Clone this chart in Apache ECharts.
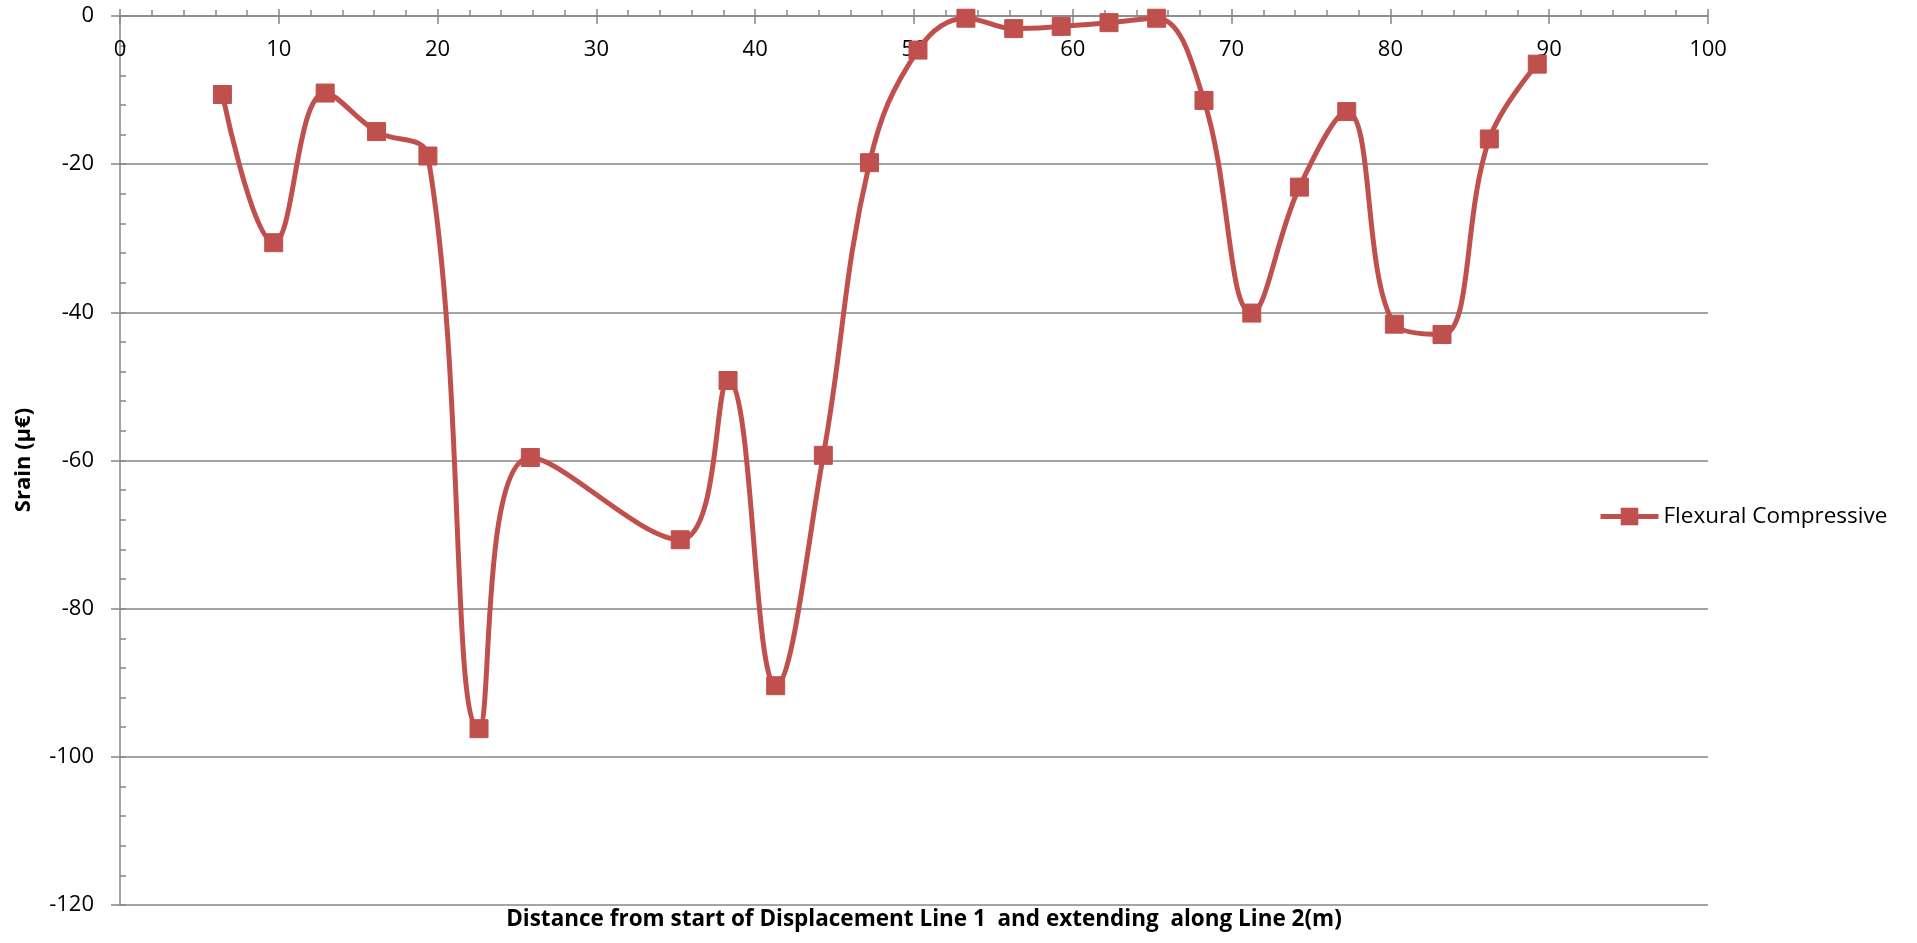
<!DOCTYPE html>
<html>
<head>
<meta charset="utf-8">
<script src="https://cdn.jsdelivr.net/npm/echarts@6/dist/echarts.min.js"></script>
<style>
html,body{margin:0;padding:0;background:#fff;}
#chart{width:1917px;height:943px;}
</style>
</head>
<body>
<div id="chart"></div>
<script>
// Data
const seriesName = 'Flexural Compressive';
const distances = [6.45, 9.68, 12.92, 16.15, 19.39, 22.61, 25.84, 35.28, 38.29, 41.29, 44.29, 47.2,
  50.25, 53.27, 56.28, 59.27, 62.28, 65.28, 68.26, 71.27, 74.27, 77.25, 80.25, 83.25, 86.23, 89.25];
const strains = [-10.6, -30.6, -10.4, -15.6, -18.9, -96.2, -59.6, -70.7, -49.2, -90.4, -59.3, -19.8,
  -4.6, -0.3, -1.7, -1.4, -0.9, -0.3, -11.4, -40.1, -23.1, -12.9, -41.6, -43.0, -16.6, -6.5];
const xTitle = 'Distance from start of Displacement Line 1  and extending  along Line 2(m)';
const yTitle = 'Srain (µ€)';

const points = distances.map((d, i) => [d, strains[i]]);

const FONT = '"Open Sans", "Noto Sans", sans-serif';
const AXIS = '#868686';
const RED = '#C0504D';
const gridBox = {left: 120, right: 209, top: 16, bottom: 38};

const chart = echarts.init(document.getElementById('chart'), null, {renderer: 'canvas'});
chart.setOption({
  animation: false,
  backgroundColor: '#fff',
  grid: [
    Object.assign({containLabel: false}, gridBox),
    Object.assign({containLabel: false}, gridBox)
  ],
  legend: {
    left: 1593, top: 500,
    orient: 'vertical',
    itemWidth: 58, itemHeight: 22,
    itemGap: 6,
    lineStyle: {width: 5},
    textStyle: {fontFamily: FONT, fontSize: 22.5, color: '#000'},
    data: [seriesName]
  },
  xAxis: [
    {
      type: 'value', gridIndex: 0, position: 'top',
      min: 0, max: 100, interval: 10,
      axisLine: {onZero: false, lineStyle: {color: AXIS, width: 1.5}},
      axisTick: {show: true, inside: false, length: 7, lineStyle: {color: AXIS, width: 1.5}},
      minorTick: {show: true, splitNumber: 5, length: 6, lineStyle: {color: AXIS, width: 1.5}},
      splitLine: {show: false},
      axisLabel: {inside: true, margin: 23, fontFamily: FONT, fontSize: 22, color: '#000'}
    },
    {
      type: 'value', gridIndex: 1, position: 'top',
      min: 0, max: 100, interval: 10,
      axisLine: {show: false, onZero: false},
      axisTick: {show: true, inside: true, length: 8, lineStyle: {color: AXIS, width: 1.5}},
      axisLabel: {show: false}, splitLine: {show: false}
    }
  ],
  yAxis: [
    {
      type: 'value', gridIndex: 0,
      min: -120, max: 0, interval: 20,
      axisLine: {show: true, onZero: false, lineStyle: {color: AXIS, width: 1.5}},
      axisTick: {show: true, inside: true, length: 6, lineStyle: {color: AXIS, width: 1.5}},
      minorTick: {show: true, splitNumber: 5, length: 6, lineStyle: {color: AXIS, width: 1.5}},
      splitLine: {show: true, lineStyle: {color: AXIS, width: 1.5}},
      axisLabel: {margin: 26, fontFamily: FONT, fontSize: 22, color: '#000'}
    },
    {
      type: 'value', gridIndex: 1,
      min: -120, max: 0, interval: 20,
      axisLine: {show: false, onZero: false},
      axisTick: {show: true, inside: false, length: 9, lineStyle: {color: AXIS, width: 1.5}},
      axisLabel: {show: false}, splitLine: {show: false}
    }
  ],
  graphic: [
    {
      type: 'text', x: 924, y: 920,
      style: {text: xTitle, fontFamily: FONT, fontSize: 22.5, fontWeight: 'bold', fill: '#000',
        align: 'center', verticalAlign: 'middle'}
    },
    {
      type: 'text', x: 24, y: 460, rotation: Math.PI / 2,
      style: {text: yTitle, fontFamily: FONT, fontSize: 22, fontWeight: 'bold', fill: '#000',
        align: 'center', verticalAlign: 'middle'}
    }
  ],
  series: [{
    name: seriesName, type: 'line',
    xAxisIndex: 0, yAxisIndex: 0,
    data: points,
    smooth: 0.4,
    symbol: 'rect', symbolSize: 18,
    lineStyle: {color: RED, width: 5},
    itemStyle: {color: RED, borderColor: RED},
    z: 5
  }]
});
</script>
</body>
</html>
